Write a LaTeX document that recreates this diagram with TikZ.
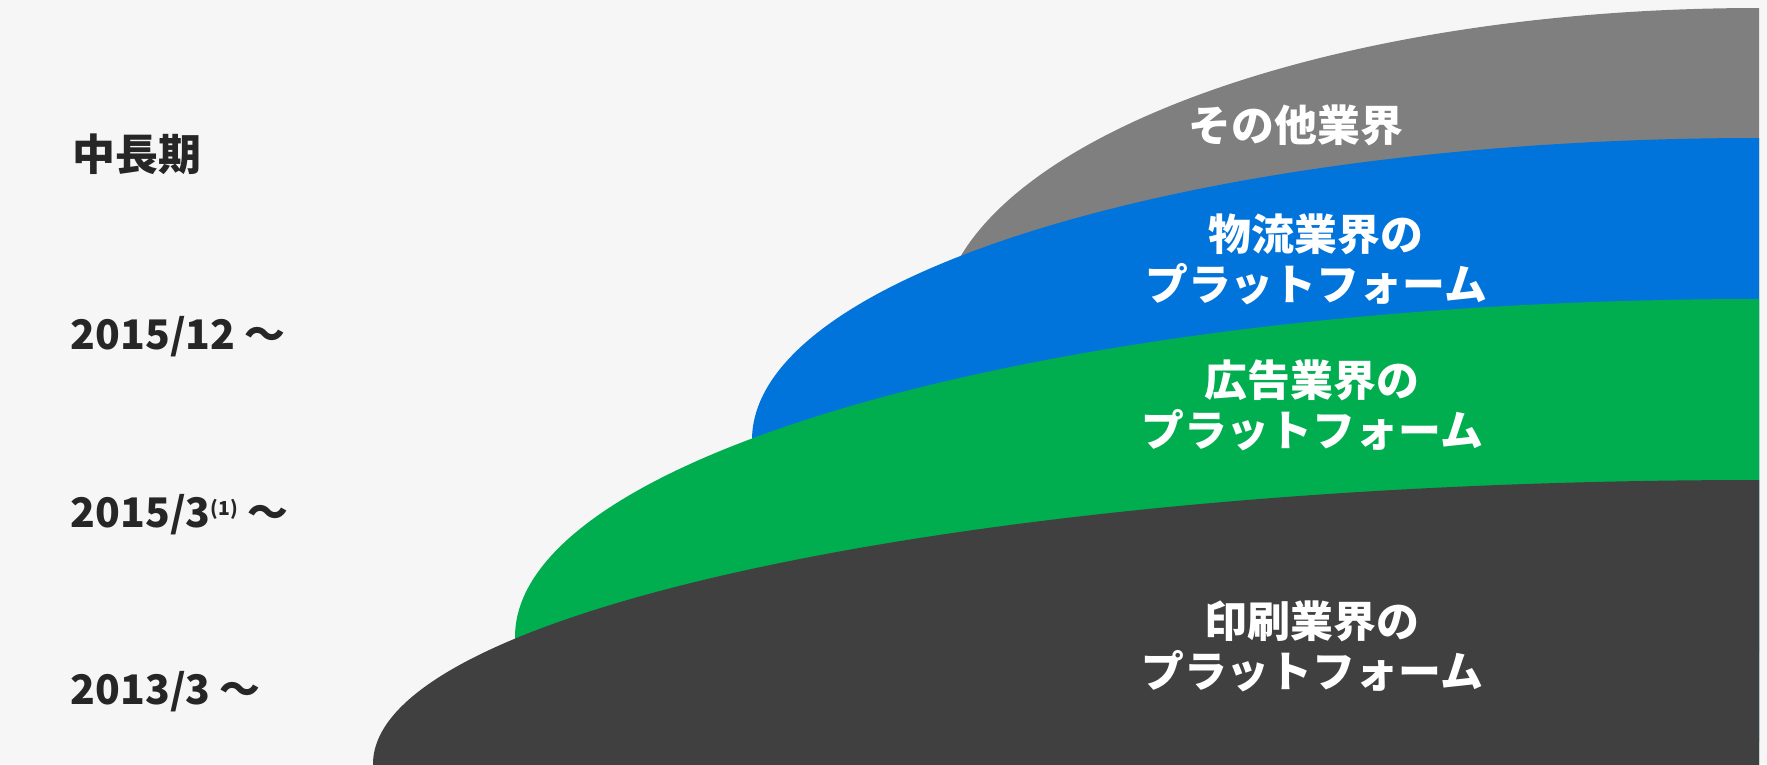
\documentclass[tikz,border=0pt]{standalone}
\usepackage{fontspec}
\setmainfont{Noto Sans CJK JP}
\usepackage{tikz}
\definecolor{bgcol}{HTML}{F6F6F6}
\definecolor{textcol}{HTML}{262626}
\definecolor{othercol}{HTML}{7F7F7F}
\definecolor{logicol}{HTML}{0074DB}
\definecolor{adcol}{HTML}{00AE50}
\definecolor{printcol}{HTML}{404040}

\begin{document}
\begin{tikzpicture}[
  era/.style={anchor=base west, inner sep=0pt, text=textcol, font=\fontsize{11.6}{14}\selectfont\bfseries},
  band/.style={align=center, inner sep=0pt, text=white, font=\fontsize{12.2}{14.2}\selectfont\bfseries}]

\fill[bgcol] (0,0) rectangle (17.67,7.64);

% quarter ellipses, cut at the right edge
\begin{scope}
\clip (0,0) rectangle (17.59,7.64);
\fill[othercol] (17.59,4.34) ellipse [x radius=8.20, y radius=3.22];
\fill[logicol]  (17.59,3.24) ellipse [x radius=10.07, y radius=3.02];
\fill[adcol]    (17.59,1.27) ellipse [x radius=12.44, y radius=3.38];
\fill[printcol] (17.59,0)    ellipse [x radius=13.86, y radius=2.84];
\end{scope}

% periods on the left
\node[era, font=\fontsize{12.2}{14}\selectfont\bfseries] (mid) at (0.72,5.94) {中長期};
\node[era] (y1512) at (0.70,4.15) {2015/12 〜};
\node[era] (y1503) at (0.70,2.37) {2015/3{\fontsize{5.5}{6}\selectfont\raisebox{1.1ex}{(1)}} 〜};
\node[era] (y1303) at (0.70,0.60) {2013/3 〜};

% band labels
\node[band] (other) at (12.96,6.39)  {その他業界};
\node[band] (logi)  at (13.16,5.05)  {物流業界の\\プラットフォーム};
\node[band] (ad)    at (13.12,3.585) {広告業界の\\プラットフォーム};
\node[band] (print) at (13.12,1.18)  {印刷業界の\\プラットフォーム};

\end{tikzpicture}
\end{document}
